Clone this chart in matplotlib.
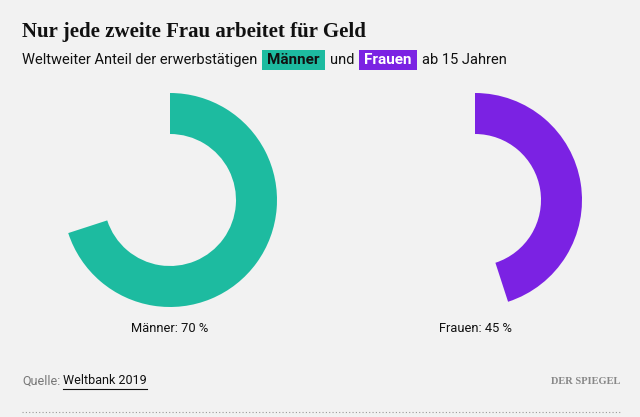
import matplotlib
matplotlib.use("Agg")
import matplotlib.pyplot as plt
from matplotlib.patches import Rectangle

# data
groups = ["Männer", "Frauen"]
shares = [70, 45]
colors = ["#1DBBA0", "#7B22E3"]
title = "Nur jede zweite Frau arbeitet für Geld"
source = "Weltbank 2019"

bg = "#F2F2F2"
W, H = 640, 417
fig = plt.figure(figsize=(W / 100, H / 100), dpi=100, facecolor=bg)
ax = fig.add_axes([0, 0, 1, 1])
ax.set_facecolor(bg)

# donuts, pixel coordinates (y up)
centers = [(170, H - 200), (475, H - 200)]
R = 107
ring = 41
for (cx, cy), share, col, name in zip(centers, shares, colors, groups):
    ax.pie([share, 100 - share], colors=[col, "none"], startangle=90,
           counterclock=False, center=(cx, cy), radius=R,
           wedgeprops=dict(width=ring, linewidth=0))
    ax.text(cx, H - 328, f"{name}: {share} %", ha="center", va="center",
            fontsize=9.3, family="Roboto", color="#111111")

ax.set_xlim(0, W)
ax.set_ylim(0, H)
ax.set_aspect("equal")
ax.axis("off")

# title
ax.text(22, H - 32, title, ha="left", va="center", fontsize=15,
        family="Liberation Serif", fontweight="bold", color="#111111")

# subtitle with highlighted words
fig.canvas.draw()
r = fig.canvas.get_renderer()
inv = ax.transData.inverted()

def put(x, s, size=10.5, **kw):
    t = ax.text(x, H - 60, s, ha="left", va="center", fontsize=size,
                family="Roboto", **kw)
    bb = t.get_window_extent(r)
    x0, x1 = inv.transform((bb.x0, 0))[0], inv.transform((bb.x1, 0))[0]
    return t, x0, x1

def box(x, s, fc, tc):
    t, x0, x1 = put(x + 5, s, size=11, color=tc, fontweight="bold")
    ax.add_patch(Rectangle((x, H - 69.5), (x1 - x0) + 10, 20, facecolor=fc,
                           edgecolor="none", zorder=0))
    return x1 + 5

_, _, xe = put(22, "Weltweiter Anteil der erwerbstätigen", color="#111111")
xe = box(xe + 5, groups[0], colors[0], "#111111")
_, _, xe = put(xe + 5, "und", color="#111111")
xe = box(xe + 5, groups[1], colors[1], "white")
put(xe + 5, "ab 15 Jahren", color="#111111")

# footer
t = ax.text(22, H - 381, "Quelle:", ha="left", va="center", fontsize=9,
            family="Roboto", color="#777777")
bb = t.get_window_extent(r)
xq = inv.transform((bb.x1, 0))[0] + 3
t2 = ax.text(xq, H - 381, source, ha="left", va="center", fontsize=9,
             family="Roboto", color="#111111")
bb2 = t2.get_window_extent(r)
ax.plot([xq, inv.transform((bb2.x1, 0))[0]], [H - 389, H - 389],
        color="#111111", lw=0.8)
ax.text(620, H - 381, "DER SPIEGEL", ha="right", va="center", fontsize=7.5,
        family="Liberation Serif", fontweight="bold", color="#888888")
ax.plot([22, 620], [H - 412, H - 412], color="#999999", lw=0.8,
        linestyle=(0, (1, 2)))

fig.savefig("out.png", dpi=100, facecolor=bg)
